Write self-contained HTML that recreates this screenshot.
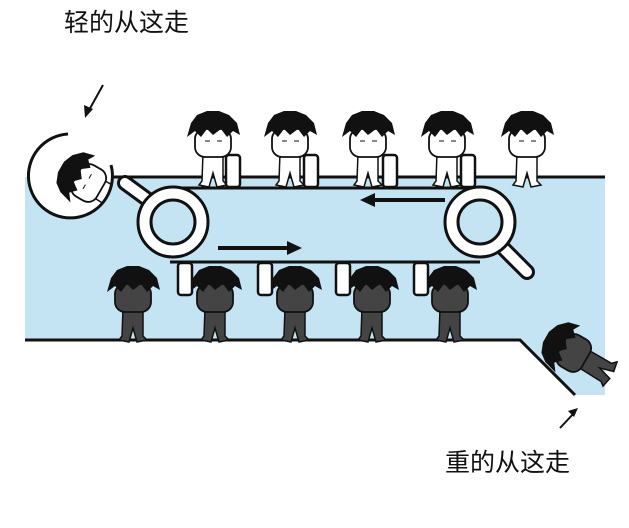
<!DOCTYPE html>
<html><head><meta charset="utf-8"><style>
body{margin:0;background:#fff;width:629px;height:523px;overflow:hidden}
text{font-family:"Liberation Sans","Noto Sans CJK SC",sans-serif}
</style></head><body>
<svg width="629" height="523" viewBox="0 0 629 523">
<defs>
<g id="w">
 <path d="M-10 30 L-11 58 L-14 62 L-4 64 L0 50 L4 64 L14 62 L10 58 L10 30 Z" fill="#fff" stroke="#111" stroke-width="1.5"/>
 <rect x="-18" y="6" width="36" height="28" rx="10" fill="#fff" stroke="#111" stroke-width="1.8"/>
 <path d="M-26 14 L-22 0 L-16 -8 L-6 -12 L6 -12 L16 -8 L24 0 L27 12 L20 8 L14 14 L8 6 L0 12 L-6 6 L-12 14 L-18 8 Z" fill="#111"/>
 <line x1="-8" y1="18" x2="-3" y2="18" stroke="#111"/><line x1="4" y1="18" x2="9" y2="18" stroke="#111"/>
</g>
<g id="d">
 <path d="M-10 30 L-11 58 L-14 62 L-4 64 L0 50 L4 64 L14 62 L10 58 L10 30 Z" fill="#444" stroke="#111" stroke-width="1.5"/>
 <rect x="-18" y="6" width="36" height="28" rx="10" fill="#444" stroke="#111" stroke-width="1.8"/>
 <path d="M-26 14 L-22 0 L-16 -8 L-6 -12 L6 -12 L16 -8 L24 0 L27 12 L20 8 L14 14 L8 6 L0 12 L-6 6 L-12 14 L-18 8 Z" fill="#111"/>
</g>
<clipPath id="cc"><circle cx="70" cy="176" r="42"/></clipPath>
</defs>
<path d="M25 177 L605 177 L605 395 L575 395 L520 340 L25 340 Z" fill="#c5e4f3"/>
<line x1="110" y1="177" x2="605" y2="177" stroke="#111" stroke-width="3"/>
<path d="M25 340 L520 340 L575 395" fill="none" stroke="#111" stroke-width="3"/>
<rect x="170" y="188" width="310" height="74" fill="#c5e4f3"/>
<line x1="170" y1="188" x2="480" y2="188" stroke="#111" stroke-width="3"/>
<line x1="170" y1="262" x2="480" y2="262" stroke="#111" stroke-width="3"/>
<line x1="125" y1="183" x2="155" y2="205" stroke="#111" stroke-width="16" stroke-linecap="round"/>
<line x1="125" y1="183" x2="155" y2="205" stroke="#fff" stroke-width="10" stroke-linecap="round"/>
<circle cx="173" cy="222" r="35" fill="#fff" stroke="#111" stroke-width="3"/>
<circle cx="173" cy="222" r="22" fill="#c5e4f3" stroke="#111" stroke-width="3"/>
<line x1="500" y1="245" x2="527" y2="272" stroke="#111" stroke-width="16" stroke-linecap="round"/>
<line x1="500" y1="245" x2="527" y2="272" stroke="#fff" stroke-width="10" stroke-linecap="round"/>
<circle cx="480" cy="222" r="35" fill="#fff" stroke="#111" stroke-width="3"/>
<circle cx="480" cy="222" r="22" fill="#c5e4f3" stroke="#111" stroke-width="3"/>
<line x1="445" y1="200" x2="372" y2="200" stroke="#111" stroke-width="4"/>
<polygon points="360,200 375,193 375,207" fill="#111"/>
<line x1="218" y1="248" x2="290" y2="248" stroke="#111" stroke-width="4"/>
<polygon points="302,248 287,241 287,255" fill="#111"/>
<use href="#w" x="213" y="123"/><use href="#w" x="290" y="123"/><use href="#w" x="368" y="123"/><use href="#w" x="447" y="123"/><use href="#w" x="527" y="123"/>
<g fill="#fff" stroke="#111" stroke-width="2.5">
<rect x="226" y="155" width="14" height="32" rx="3"/><rect x="304" y="155" width="14" height="32" rx="3"/><rect x="383" y="155" width="14" height="32" rx="3"/><rect x="461" y="155" width="14" height="32" rx="3"/>
</g>
<use href="#d" x="133" y="278"/><use href="#d" x="215" y="278"/><use href="#d" x="295" y="278"/><use href="#d" x="372" y="278"/><use href="#d" x="450" y="278"/>
<g fill="#fff" stroke="#111" stroke-width="2.5">
<rect x="178" y="263" width="14" height="32" rx="3"/><rect x="258" y="263" width="14" height="32" rx="3"/><rect x="336" y="263" width="14" height="32" rx="3"/><rect x="414" y="263" width="14" height="32" rx="3"/>
</g>
<g transform="translate(565 348) rotate(-60)"><use href="#d" x="0" y="-10"/></g>
<circle cx="70" cy="176" r="42" fill="#fff"/>
<g clip-path="url(#cc)"><g transform="translate(80 178) rotate(-60)"><use href="#w" x="0" y="-10"/></g></g>
<path d="M68 134 A42 42 0 1 0 111 165" fill="none" stroke="#111" stroke-width="3"/>
<line x1="103" y1="85" x2="88" y2="112" stroke="#111" stroke-width="2"/>
<polygon points="85,118 84,105 93,109" fill="#111"/>
<line x1="560" y1="428" x2="575" y2="412" stroke="#111" stroke-width="2"/>
<polygon points="578,408 568,411 574,417" fill="#111"/>
<text x="64" y="31" font-size="25" fill="#111">轻的从这走</text>
<text x="445" y="471" font-size="25" fill="#111">重的从这走</text>
</svg>
</body></html>
